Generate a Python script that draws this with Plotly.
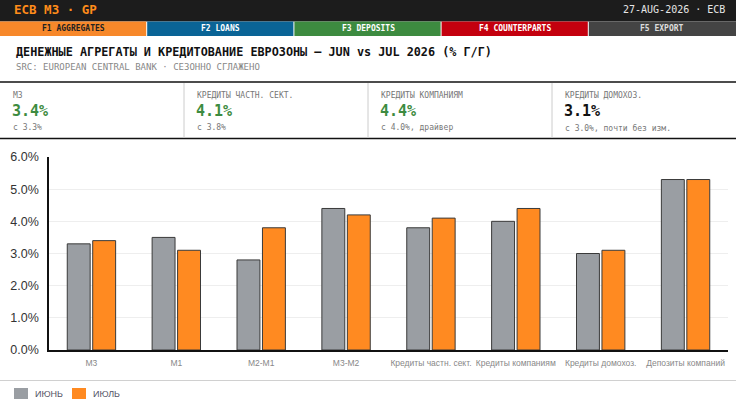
import plotly.graph_objects as go

W, H = 736, 407

categories = ["M3", "M1", "M2-M1", "M3-M2", "Кредиты частн. сект.",
              "Кредиты компаниям", "Кредиты домохоз.", "Депозиты компаний"]
jun_vals = [3.3, 3.5, 2.8, 4.4, 3.8, 4.0, 3.0, 5.3]
jul_vals = [3.4, 3.1, 3.8, 4.2, 4.1, 4.4, 3.1, 5.3]
series_names = ["ИЮНЬ", "ИЮЛЬ"]
y_ticks = [0, 1, 2, 3, 4, 5, 6]
y_tick_labels = [f"{v:.1f}%" for v in y_ticks]

tabs = ["F1 AGGREGATES", "F2 LOANS", "F3 DEPOSITS", "F4 COUNTERPARTS", "F5 EXPORT"]
tab_colors = ["#f7882a", "#0a6496", "#3d8b40", "#c4000e", "#444444"]
tab_text_colors = ["#222222", "#ffffff", "#ffffff", "#ffffff", "#dddddd"]

kpi_labels = ["M3", "КРЕДИТЫ ЧАСТН. СЕКТ.", "КРЕДИТЫ КОМПАНИЯМ", "КРЕДИТЫ ДОМОХОЗ."]
kpi_values = ["3.4%", "4.1%", "4.4%", "3.1%"]
kpi_notes = ["с 3.3%", "с 3.8%", "с 4.0%, драйвер", "с 3.0%, почти без изм."]
kpi_colors = ["#3d8b40", "#3d8b40", "#3d8b40", "#111111"]

MONO = "DejaVu Sans Mono"
SERIES_COLORS = ["#9a9ea3", "#ff8a21"]


def px(x):
    return x / W


def py(y):
    return 1 - y / H


def label(x, y, text, size, color, anchor="left", family=MONO):
    return dict(x=px(x), y=py(y), xref="paper", yref="paper", text=text, showarrow=False,
                xanchor=anchor, yanchor="middle", font=dict(family=family, size=size, color=color))


fig = go.Figure()
for name, vals, color in zip(series_names, [jun_vals, jul_vals], SERIES_COLORS):
    fig.add_trace(go.Bar(x=categories, y=vals, name=name, showlegend=False,
                         marker=dict(color=color, line=dict(color="#3a3a3a", width=1))))

shapes = []
annotations = []

# header bar
shapes.append(dict(type="rect", xref="paper", yref="paper", x0=0, x1=1,
                   y0=py(21.5), y1=1, fillcolor="#1c1c1c", line_width=0, layer="below"))
annotations.append(label(12, 10, "<b>ECB M3 · GP</b>", 12.5, "#ff8c1a"))
annotations.append(label(727, 10, "27-AUG-2026 · ECB", 10, "#e6e6e6", anchor="right"))

# function-key tabs
tab_w = W / len(tabs)
for i, (t, c, tc) in enumerate(zip(tabs, tab_colors, tab_text_colors)):
    shapes.append(dict(type="rect", xref="paper", yref="paper",
                       x0=px(i * tab_w), x1=px((i + 1) * tab_w - (1 if i < 4 else 0)),
                       y0=py(36), y1=py(21.5), fillcolor=c, line_width=0, layer="below"))
    annotations.append(label(i * tab_w + tab_w / 2, 29, f"<b>{t}</b>", 8, tc, anchor="center"))

# title block
annotations.append(label(14, 52, "<b>ДЕНЕЖНЫЕ АГРЕГАТЫ И КРЕДИТОВАНИЕ ЕВРОЗОНЫ — JUN vs JUL 2026 (% Г/Г)</b>",
                         11.8, "#111111"))
annotations.append(label(14, 67, "SRC: EUROPEAN CENTRAL BANK · СЕЗОННО СГЛАЖЕНО", 9, "#888888"))

# KPI strip
shapes.append(dict(type="line", xref="paper", yref="paper", x0=0, x1=1, y0=py(82), y1=py(82),
                   line=dict(color="#111111", width=1.5)))
shapes.append(dict(type="line", xref="paper", yref="paper", x0=0, x1=1, y0=py(138.5), y1=py(138.5),
                   line=dict(color="#111111", width=1.5)))
card_w = W / 4
for i in range(4):
    if i > 0:
        shapes.append(dict(type="line", xref="paper", yref="paper",
                           x0=px(i * card_w), x1=px(i * card_w), y0=py(138), y1=py(83),
                           line=dict(color="#cccccc", width=1)))
    x0 = i * card_w + 11
    annotations.append(label(x0, 95, kpi_labels[i], 8, "#777777"))
    annotations.append(label(x0 - 1, 111, f"<b>{kpi_values[i]}</b>", 15, kpi_colors[i]))
    annotations.append(label(x0, 128, kpi_notes[i], 8, "#777777"))

# separator above legend
shapes.append(dict(type="line", xref="paper", yref="paper", x0=0, x1=1, y0=py(380.5), y1=py(380.5),
                   line=dict(color="#d0d0d0", width=1)))

# legend swatches
legend_x = [14, 72]
for lx, name, color in zip(legend_x, series_names, SERIES_COLORS):
    shapes.append(dict(type="rect", xref="paper", yref="paper", x0=px(lx), x1=px(lx + 14),
                       y0=py(399), y1=py(388), fillcolor=color, line_width=0))
    annotations.append(label(lx + 19, 393.5, name, 9, "#555566",
                             family="Arial, Liberation Sans, sans-serif"))

fig.update_layout(
    width=W, height=H,
    margin=dict(l=0, r=0, t=0, b=0, autoexpand=False),
    paper_bgcolor="#ffffff", plot_bgcolor="#ffffff",
    barmode="group", bargap=0.4, bargroupgap=0.1,
    font=dict(family="Arial, Liberation Sans, sans-serif"),
    xaxis=dict(domain=[px(49), px(728)], showline=True, linecolor="#111111", linewidth=1.5,
               tickfont=dict(size=8.5, color="#888888"), ticks="", showgrid=False,
               tickangle=0, automargin=False, ticklabelstandoff=4),
    yaxis=dict(domain=[py(350), py(157)], range=[0, 6], tickvals=y_ticks, ticktext=y_tick_labels,
               showline=True, linecolor="#111111", linewidth=1.5,
               gridcolor="#eeeeee", zeroline=False, ticks="", ticklabelstandoff=6,
               tickfont=dict(size=12.5, color="#333333"), automargin=False),
    showlegend=False,
    shapes=shapes,
    annotations=annotations,
)

fig.write_html("out.html", config={"displayModeBar": False},
               post_script="document.body.style.margin='0';")
